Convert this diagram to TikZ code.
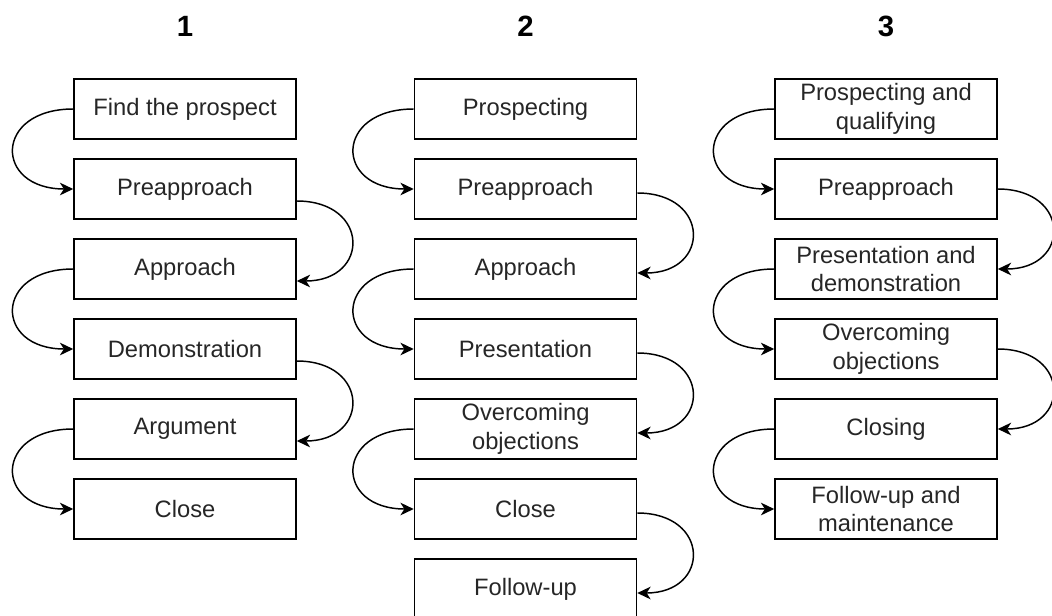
\documentclass[tikz,border=0pt]{standalone}
\usepackage{fontspec}
\setmainfont{Liberation Sans}
\usetikzlibrary{arrows.meta,calc}
\begin{document}
\begin{tikzpicture}[x=0.75pt,y=-0.75pt,
  stage/.style={draw, line width=1.2pt, minimum width=166.5pt, minimum height=45pt,
    align=center, inner sep=0pt, text=black!85, font=\fontsize{17.8}{21.6}\selectfont},
  heading/.style={font=\fontsize{22}{26}\selectfont\bfseries},
  flow/.style={line width=1.1pt, -{Stealth[length=10pt,width=9.5pt,inset=3pt]}},
  loopL/.style={flow, out=180, in=180, looseness=2.55},
  loopR/.style={flow, out=0, in=0, looseness=2.35}]
\clip (0,0) rectangle (1052,615);

% column headings
\node[heading] (t1) at (185,26) {1};
\node[heading] (t2) at (525.5,26) {2};
\node[heading] (t3) at (886,26) {3};

% column 1
\node[stage] (a1) at (185,109) {Find the prospect};
\node[stage] (a2) at (185,189) {Preapproach};
\node[stage] (a3) at (185,269) {Approach};
\node[stage] (a4) at (185,349) {Demonstration};
\node[stage] (a5) at (185,429) {Argument};
\node[stage] (a6) at (185,509) {Close};

\draw[loopL] (a1.west) to (a2.west);
\draw[loopR] ([yshift=-9pt]a2.east) to ([yshift=-9pt]a3.east);
\draw[loopL] (a3.west) to (a4.west);
\draw[loopR] ([yshift=-9pt]a4.east) to ([yshift=-9pt]a5.east);
\draw[loopL] (a5.west) to (a6.west);

% column 2
\node[stage] (b1) at (525.5,109) {Prospecting};
\node[stage] (b2) at (525.5,189) {Preapproach};
\node[stage] (b3) at (525.5,269) {Approach};
\node[stage] (b4) at (525.5,349) {Presentation};
\node[stage] (b5) at (525.5,429) {Overcoming\\objections};
\node[stage] (b6) at (525.5,509) {Close};
\node[stage] (b7) at (525.5,589) {Follow-up};

\draw[loopL] (b1.west) to (b2.west);
\draw[loopR] ([yshift=-3pt]b2.east) to ([yshift=-3pt]b3.east);
\draw[loopL] (b3.west) to (b4.west);
\draw[loopR] ([yshift=-3pt]b4.east) to ([yshift=-3pt]b5.east);
\draw[loopL] (b5.west) to (b6.west);
\draw[loopR] ([yshift=-3pt]b6.east) to ([yshift=-3pt]b7.east);

% column 3
\node[stage] (c1) at (886,109) {Prospecting and\\qualifying};
\node[stage] (c2) at (886,189) {Preapproach};
\node[stage] (c3) at (886,269) {Presentation and\\demonstration};
\node[stage] (c4) at (886,349) {Overcoming\\objections};
\node[stage] (c5) at (886,429) {Closing};
\node[stage] (c6) at (886,509) {Follow-up and\\maintenance};

\draw[loopL] (c1.west) to (c2.west);
\draw[loopR] (c2.east) to (c3.east);
\draw[loopL] (c3.west) to (c4.west);
\draw[loopR] (c4.east) to (c5.east);
\draw[loopL] (c5.west) to (c6.west);
\end{tikzpicture}
\end{document}
